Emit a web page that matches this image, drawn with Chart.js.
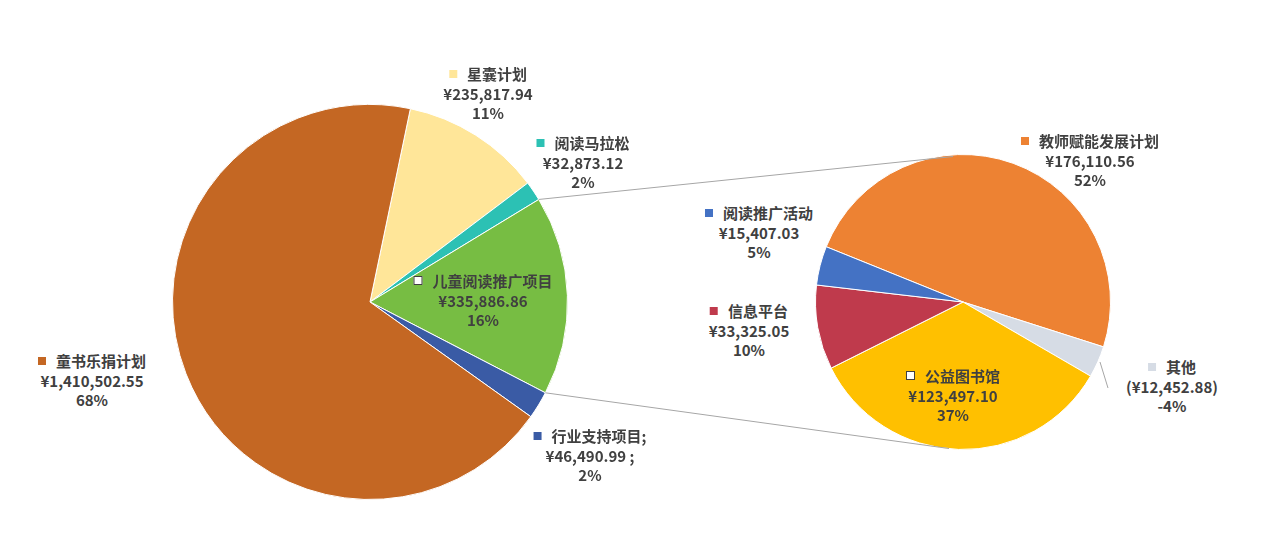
<!DOCTYPE html>
<html><head><meta charset="utf-8">
<script src="https://cdn.jsdelivr.net/npm/chart.js@4/dist/chart.umd.min.js"></script>
<style>
body{margin:0;background:#fff;width:1280px;height:549px;position:relative;overflow:hidden;font-family:"Noto Sans CJK SC","Noto Sans",sans-serif}
canvas{position:absolute}
.lb{position:absolute;transform:translateX(-50%);text-align:center;font-weight:bold;font-size:15px;line-height:19.5px;color:#404040;white-space:nowrap}
.mk{display:inline-block;width:8px;height:8px;margin-right:10px;vertical-align:2px}
</style></head><body>
<canvas id="ov" width="1280" height="549" style="left:0;top:0;z-index:2;pointer-events:none"></canvas>
<canvas id="c1" style="left:172px;top:104px"></canvas>
<canvas id="c2" style="left:815px;top:154px"></canvas>
<script>
const mainNames=["星囊计划","阅读马拉松","儿童阅读推广项目","行业支持项目","童书乐捐计划"];
const mainValues=[235817.94,32873.12,335886.86,46490.99,1410502.55];
const mainColors=["#FFE699","#2CC1B4","#77BD43","#3A5BA5","#C46723"];
const subNames=["教师赋能发展计划","其他","公益图书馆","信息平台","阅读推广活动"];
const subValues=[176110.56,-12452.88,123497.10,33325.05,15407.03];
const subColors=["#ED8233","#D6DCE5","#FFC000","#BF3A4C","#4472C4"];

const fmt=v=>v.toLocaleString('en-US',{minimumFractionDigits:2,maximumFractionDigits:2});
const mainTotal=mainValues.reduce((a,b)=>a+b,0);
const subTotal=subValues.reduce((a,b)=>a+b,0);

function mk(id,size,data,colors,rot){
  const c=document.getElementById(id);c.style.width=size+'px';c.style.height=size+'px';
  return new Chart(c,{type:'pie',data:{labels:data.map((_,i)=>i),datasets:[{data:data.map(Math.abs),backgroundColor:colors,borderColor:'#fff',borderWidth:1}]},
    options:{responsive:false,devicePixelRatio:1,animation:false,rotation:rot,layout:{padding:0},plugins:{legend:{display:false},tooltip:{enabled:false}}}});
}
const c1=mk('c1',396,mainValues,mainColors,11.8);
const c2=mk('c2',296,subValues,subColors,-68);

// connectors
const ctx=document.getElementById('ov').getContext('2d');
const a=c1.getDatasetMeta(0).data[2], b=c2.getDatasetMeta(0).data[0];
const ox1=172,oy1=104,ox2=815,oy2=154;
const p1=[ox1+a.x+a.outerRadius*Math.cos(a.startAngle),oy1+a.y+a.outerRadius*Math.sin(a.startAngle)];
const p2=[ox1+a.x+a.outerRadius*Math.cos(a.endAngle),oy1+a.y+a.outerRadius*Math.sin(a.endAngle)];
const q1=[ox2+b.x-10,oy2+b.y-b.outerRadius+2], q2=[ox2+b.x-14,oy2+b.y+b.outerRadius-1];
ctx.strokeStyle='#A6A6A6';ctx.lineWidth=1;
ctx.beginPath();ctx.moveTo(...p1);ctx.lineTo(...q1);ctx.moveTo(...p2);ctx.lineTo(...q2);
ctx.moveTo(1100,362);ctx.lineTo(1108,388);ctx.stroke();

function label(x,y,name,val,pct,color,hollow){
  const d=document.createElement('div');d.className='lb';d.style.left=x+'px';d.style.top=y+'px';
  const m=hollow?`<span class="mk" style="border:1px solid #404040;background:#fff;width:7px;height:7px"></span>`:`<span class="mk" style="background:${color}"></span>`;
  d.innerHTML=m+name+'<br>'+val+'<br>'+pct;document.body.appendChild(d);
}
const pm=v=>Math.round(v/mainTotal*100)+'%', ps=v=>Math.round(v/subTotal*100)+'%';
const mainPos=[[488,64],[583,133],[483,271],[590,426],[92,351]];
mainValues.forEach((v,i)=>label(mainPos[i][0],mainPos[i][1],mainNames[i],'¥'+fmt(v),pm(v),mainColors[i],i==2));
// 行业支持项目 label uses semicolons
document.querySelectorAll('.lb')[3].innerHTML=`<span class="mk" style="background:${mainColors[3]}"></span>${mainNames[3]};<br>¥${fmt(mainValues[3])} ;<br>${pm(mainValues[3])}`;
const subPos=[[1090,131],[1172,357],[953,366],[749,301],[759,203]];
subValues.forEach((v,i)=>{
  const val=v<0?'(¥'+fmt(-v)+')':'¥'+fmt(v);
  label(subPos[i][0],subPos[i][1],subNames[i],val,ps(v),subColors[i],i==2);
});
</script></body></html>
